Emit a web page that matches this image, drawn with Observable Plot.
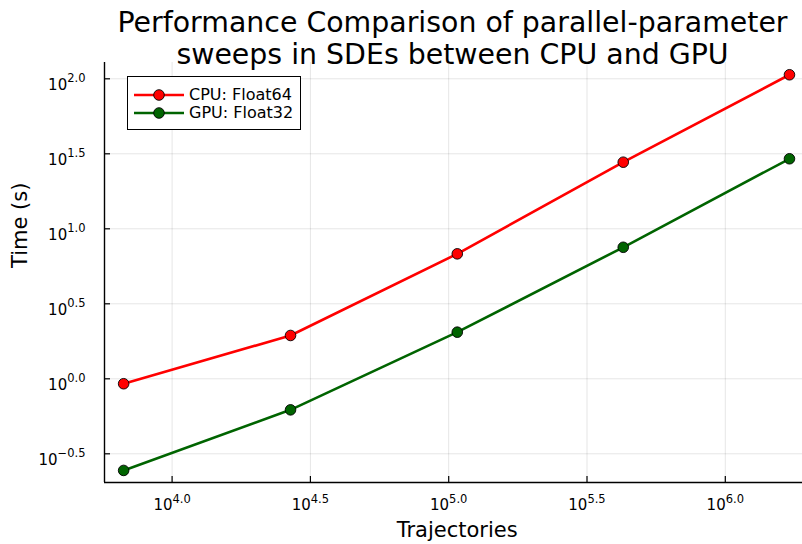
<!DOCTYPE html>
<html><head><meta charset="utf-8">
<script src="https://cdn.jsdelivr.net/npm/d3@7"></script>
<script src="https://cdn.jsdelivr.net/npm/@observablehq/plot@0.6"></script>
<style>
body{margin:0;background:#fff;font-family:"DejaVu Sans",sans-serif;}
#wrap{position:relative;width:802px;height:544px;overflow:hidden;background:#fff;}
#legend{position:absolute;left:127px;top:76px;width:172px;height:52px;border:1.2px solid #000;background:#fff;}
.item{position:absolute;left:0;height:16px;display:flex;align-items:center;}
.item span{font-size:16px;color:#000;line-height:16px;margin-left:4px;}
</style></head><body><div id="wrap"></div>
<script>
// Data
const trajectories = [6680, 26800, 107400, 427600, 1706000];
const cpuTime = [0.927, 1.945, 6.81, 27.8, 106.4];
const gpuTime = [0.245, 0.621, 2.046, 7.53, 29.3];
const seriesNames = ["CPU: Float64", "GPU: Float32"];
const seriesColors = ["#ff0000", "#006400"];
const xTickExponents = [4.0, 4.5, 5.0, 5.5, 6.0];
const yTickExponents = [-0.5, 0.0, 0.5, 1.0, 1.5, 2.0];
const titleText = "Performance Comparison of parallel-parameter\nsweeps in SDEs between CPU and GPU";
const xLabel = "Trajectories";
const yLabel = "Time (s)";

const rows = [];
trajectories.forEach((t, i) => {
  rows.push({series: seriesNames[0], x: t, y: cpuTime[i]});
});
trajectories.forEach((t, i) => {
  rows.push({series: seriesNames[1], x: t, y: gpuTime[i]});
});
const xTicks = xTickExponents.map(e => 10 ** e);
const yTicks = yTickExponents.map(e => 10 ** e);
const fmtExp = v => {
  const e = Math.round(Math.log10(v) * 10) / 10;
  return e.toFixed(1).replace("-", "\u2212");
};
const xDomain = [10 ** 3.7556, 10 ** 6.2997];
const yDomain = [10 ** -0.6913, 10 ** 2.1087];

const chart = Plot.plot({
  width: 802, height: 544,
  marginLeft: 104, marginRight: 0, marginTop: 62, marginBottom: 62,
  style: {fontFamily: "DejaVu Sans", background: "#fff", overflow: "visible", color: "#000"},
  x: {type: "log", domain: xDomain, range: [104, 807.7]},
  y: {type: "log", domain: yDomain},
  color: {domain: seriesNames, range: seriesColors},
  marks: [
    Plot.gridX(xTicks, {stroke: "#000", strokeOpacity: 0.1, strokeWidth: 1}),
    Plot.gridY(yTicks, {stroke: "#000", strokeOpacity: 0.1, strokeWidth: 1}),
    Plot.axisX(xTicks, {tickSize: -6, tickFormat: () => "", label: null, strokeWidth: 1.2}),
    Plot.axisY(yTicks, {tickSize: -6, tickFormat: () => "", label: null, strokeWidth: 1.2}),
    Plot.axisX(xTicks, {tickSize: 0, tickPadding: 17, tickFormat: fmtExp, label: null, fontSize: 15}),
    Plot.axisY(yTicks, {tickSize: 0, tickPadding: 19, tickFormat: fmtExp, label: null, fontSize: 15, dy: 6}),
    Plot.ruleX([xDomain[0]], {stroke: "#000", strokeWidth: 1.4}),
    Plot.ruleY([yDomain[0]], {stroke: "#000", strokeWidth: 1.4}),
    Plot.line(rows, {x: "x", y: "y", z: "series", stroke: "series", strokeWidth: 2.6}),
    Plot.dot(rows, {x: "x", y: "y", fill: "series", stroke: "#000", strokeWidth: 0.9, r: 5.3}),
    Plot.text([titleText], {text: d => d, frameAnchor: "top", lineAnchor: "bottom", lineHeight: 1.113, fontSize: 28.4, dy: 1.3, dx: -1, fill: "#000"}),
    Plot.text([xLabel], {text: d => d, frameAnchor: "bottom", lineAnchor: "bottom", fontSize: 21, dy: 54.7, dx: 3.7, fill: "#000"}),
    Plot.text([yLabel], {text: d => d, frameAnchor: "left", rotate: -90, fontSize: 21, dx: -84, dy: -4.5, fill: "#000"})
  ]
});

const svg = d3.select(chart);
svg.selectAll('g[aria-label="x-axis tick label"] text, g[aria-label="y-axis tick label"] text').each(function () {
  const s = this.textContent;
  if (!s) return;
  this.textContent = "";
  const t = d3.select(this);
  t.append("tspan").style("font-size", "15px").text("10");
  t.append("tspan").attr("dy", -7.5).style("font-size", "11.5px").text(s);
});

const wrap = document.getElementById("wrap");
wrap.appendChild(chart);

// Legend
const legend = document.createElement("div");
legend.id = "legend";
seriesNames.forEach((name, i) => {
  const item = document.createElement("div");
  item.className = "item";
  item.style.top = (10 + i * 17.7) + "px";
  item.style.left = "5px";
  const s = d3.create("svg").attr("width", 52).attr("height", 16);
  s.append("line").attr("x1", 1).attr("x2", 51).attr("y1", 8).attr("y2", 8).attr("stroke", seriesColors[i]).attr("stroke-width", 2.6);
  s.append("circle").attr("cx", 26).attr("cy", 8).attr("r", 5.3).attr("fill", seriesColors[i]).attr("stroke", "#000").attr("stroke-width", 0.9);
  item.appendChild(s.node());
  const sp = document.createElement("span");
  sp.textContent = name;
  item.appendChild(sp);
  legend.appendChild(item);
});
wrap.appendChild(legend);
</script>
</body></html>
